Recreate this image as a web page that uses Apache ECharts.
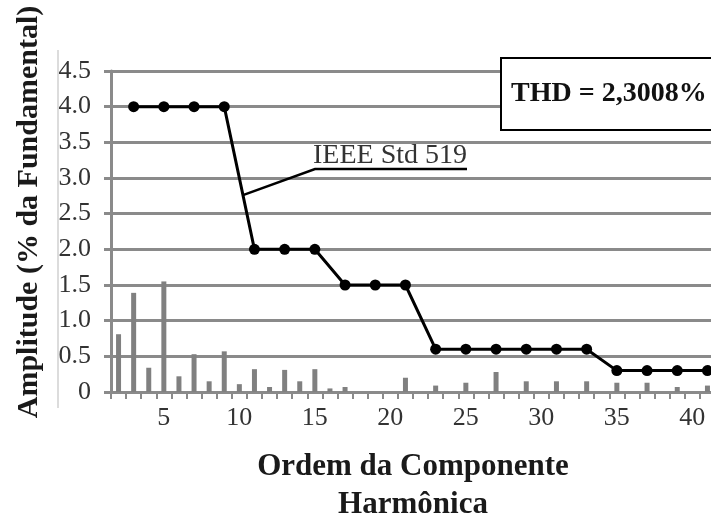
<!DOCTYPE html>
<html>
<head>
<meta charset="utf-8">
<script src="https://cdn.jsdelivr.net/npm/echarts@6/dist/echarts.min.js"></script>
<style>
  html, body { margin: 0; padding: 0; background: #fff; }
  #chart { width: 711px; height: 517px; }
</style>
</head>
<body>
<div id="chart"></div>
<script>
// Harmonic orders shown on the horizontal axis
const harmonics = ['2','3','4','5','6','7','8','9','10','11','12','13','14','15','16','17','18','19','20','21',
                   '22','23','24','25','26','27','28','29','30','31','32','33','34','35','36','37','38','39','40','41'];

// Measured harmonic amplitude (% of fundamental)
const spectrum = [0.81, 1.39, 0.34, 1.55, 0.22, 0.53, 0.15, 0.57, 0.11, 0.32,
                  0.07, 0.31, 0.15, 0.32, 0.05, 0.07, 0, 0, 0, 0.20,
                  0, 0.09, 0, 0.13, 0, 0.28, 0, 0.15, 0, 0.15,
                  0, 0.15, 0, 0.13, 0, 0.13, 0, 0.07, 0, 0.09];

// IEEE Std 519 individual odd-harmonic limits ('-' = no limit point)
const ieeeLimit = ['-', 4.0, '-', 4.0, '-', 4.0, '-', 4.0, '-', 2.0,
                   '-', 2.0, '-', 2.0, '-', 1.5, '-', 1.5, '-', 1.5,
                   '-', 0.6, '-', 0.6, '-', 0.6, '-', 0.6, '-', 0.6,
                   '-', 0.6, '-', 0.3, '-', 0.3, '-', 0.3, '-', 0.3];

const thdText = 'THD = 2,3008%';
const limitName = 'IEEE Std 519';
const xTitle = 'Ordem da Componente\nHarmônica';
const yTitle = 'Amplitude (% da Fundamental)';

const SERIF = '"Liberation Serif", "DejaVu Serif", serif';
const GRID_GREY = '#8a8a8a';

const chart = echarts.init(document.getElementById('chart'));

chart.setOption({
  animation: false,
  grid: { left: 111, right: -4, top: 71, bottom: 125, containLabel: false, outerBoundsMode: 'none' },
  xAxis: {
    type: 'category',
    data: harmonics,
    boundaryGap: true,
    axisLine: { show: true, lineStyle: { color: GRID_GREY, width: 3 } },
    axisTick: { show: true, interval: 0, length: 7, lineStyle: { color: GRID_GREY, width: 2 } },
    axisLabel: {
      interval: (idx, val) => Number(val) % 5 === 0,
      margin: 13,
      fontFamily: SERIF,
      fontSize: 26,
      color: '#333'
    },
    splitLine: { show: false },
    name: xTitle,
    nameLocation: 'middle',
    nameGap: 56,
    nameTextStyle: {
      fontFamily: SERIF,
      fontSize: 31,
      fontWeight: 'bold',
      color: '#1a1a1a',
      lineHeight: 38
    }
  },
  yAxis: {
    type: 'value',
    min: 0,
    max: 4.5,
    interval: 0.5,
    axisLine: { show: true, lineStyle: { color: GRID_GREY, width: 3 } },
    axisTick: { show: true, length: 7, lineStyle: { color: GRID_GREY, width: 3 } },
    axisLabel: {
      margin: 20,
      fontFamily: SERIF,
      fontSize: 26,
      color: '#333',
      formatter: v => (v === 0 ? '0' : v.toFixed(1))
    },
    splitLine: { show: true, lineStyle: { color: GRID_GREY, width: 3 } }
  },
  series: [
    {
      name: 'Espectro',
      type: 'bar',
      data: spectrum,
      barWidth: 5,
      itemStyle: { color: '#808080' },
      z: 2
    },
    {
      name: limitName,
      type: 'line',
      data: ieeeLimit,
      connectNulls: true,
      showSymbol: true,
      showAllSymbol: true,
      symbol: 'circle',
      symbolSize: 11,
      lineStyle: { color: '#000', width: 3 },
      itemStyle: { color: '#000' },
      z: 5
    }
  ]
});

// Callout for the limit curve: leader line to the step between the 9th and 11th harmonics
const p9 = chart.convertToPixel({ seriesIndex: 1 }, [7, ieeeLimit[7]]);
const p11 = chart.convertToPixel({ seriesIndex: 1 }, [9, ieeeLimit[9]]);
const t = 0.62;
const anchor = [p9[0] + (p11[0] - p9[0]) * t, p9[1] + (p11[1] - p9[1]) * t];

chart.setOption({
  graphic: [
    // thin frame line left of the tick labels
    {
      type: 'line',
      shape: { x1: 58, y1: 50, x2: 58, y2: 408 },
      style: { stroke: '#d0d0d0', lineWidth: 1.5 },
      silent: true
    },
    // vertical axis title
    {
      type: 'text',
      x: 29,
      y: 212,
      rotation: Math.PI / 2,
      style: {
        text: yTitle,
        fontFamily: SERIF,
        fontSize: 30,
        fontWeight: 'bold',
        fill: '#1a1a1a',
        textAlign: 'center',
        textVerticalAlign: 'middle',
        verticalAlign: 'middle'
      }
    },
    // limit curve label with underline and leader
    {
      type: 'polyline',
      shape: { points: [anchor, [315, 169], [467, 169]] },
      style: { stroke: '#000', lineWidth: 2.5, fill: null },
      z: 10
    },
    {
      type: 'text',
      x: 313,
      y: 156,
      style: {
        text: limitName,
        fontFamily: SERIF,
        fontSize: 28,
        fill: '#333',
        textAlign: 'left',
        textVerticalAlign: 'middle',
        verticalAlign: 'middle'
      },
      z: 10
    },
    // THD box
    {
      type: 'rect',
      shape: { x: 501, y: 58, width: 230, height: 72 },
      style: { fill: '#fff', stroke: '#000', lineWidth: 2 },
      z: 10
    },
    {
      type: 'text',
      x: 511,
      y: 94,
      style: {
        text: thdText,
        fontFamily: SERIF,
        fontSize: 28,
        fontWeight: 'bold',
        fill: '#111',
        textAlign: 'left',
        textVerticalAlign: 'middle',
        verticalAlign: 'middle'
      },
      z: 11
    }
  ]
});
</script>
</body>
</html>
